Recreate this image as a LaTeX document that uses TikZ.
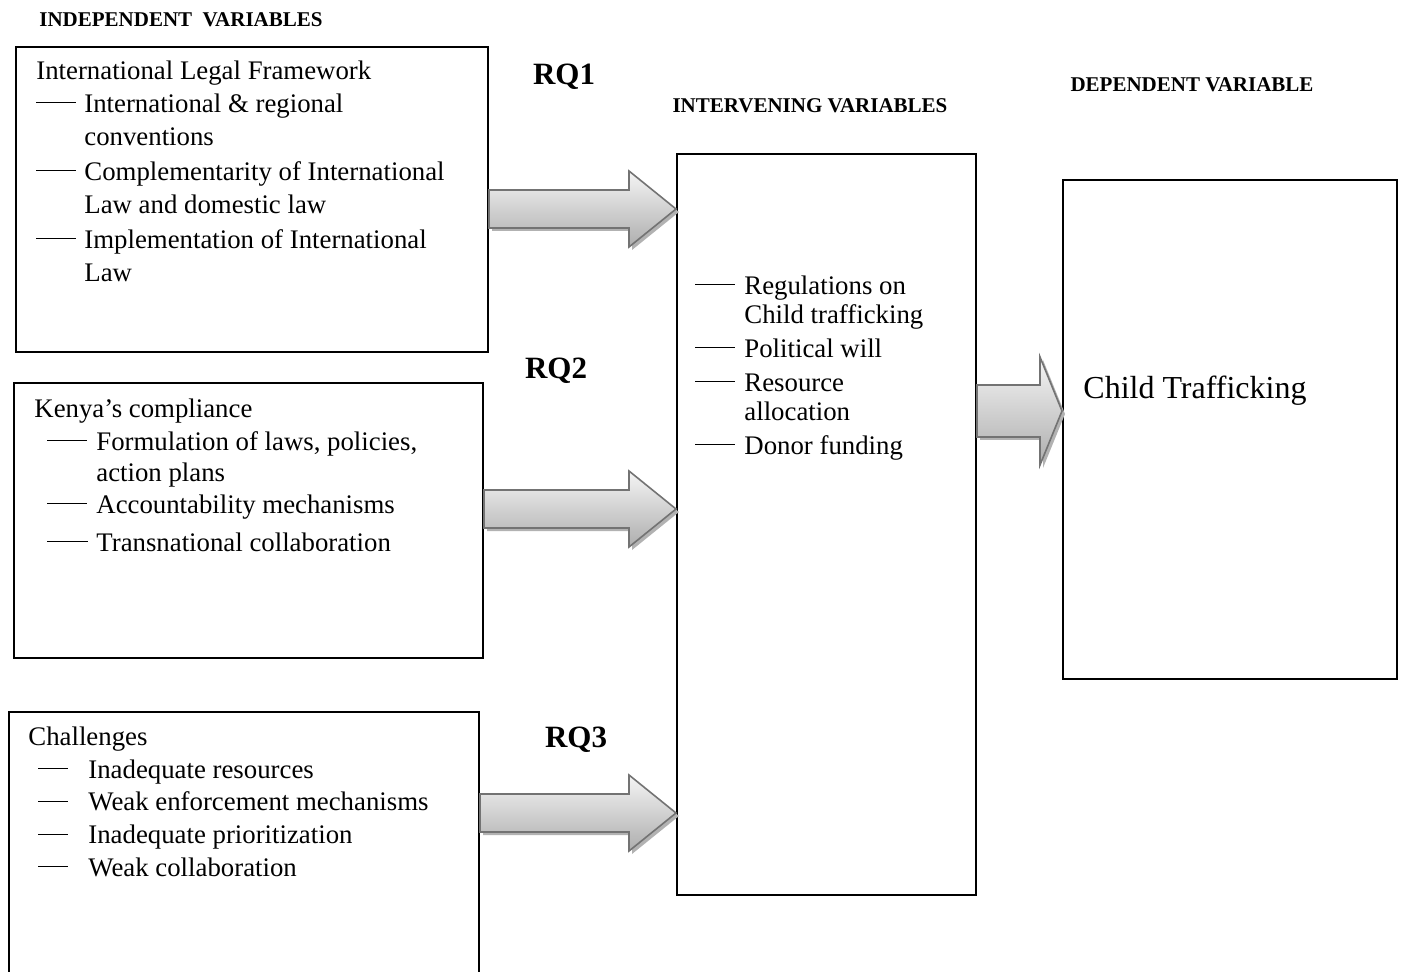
\documentclass[tikz,border=0pt]{standalone}
\usepackage{fontspec}
\setmainfont{Liberation Serif}
\usepackage{tikz}
\colorlet{arrowgray}{black!55}
\usetikzlibrary{calc,positioning}
\tikzstyle{varbox}=[draw,line width=1pt,rectangle,anchor=north west,inner sep=0pt]
\tikzstyle{boxtext}=[anchor=north west,inner sep=0pt]
\tikzstyle{heading}=[font=\fontsize{10.5}{12}\selectfont\bfseries,inner sep=0pt]
\tikzstyle{rq}=[font=\fontsize{15.5}{18}\selectfont\bfseries,inner sep=0pt]
\tikzstyle{fatarrow}=[draw=arrowgray,line width=0.8pt,top color=black!4,
  bottom color=black!32,preaction={fill=black!30,
  transform canvas={shift={(1.5pt,-1.5pt)}}}]
\newcommand{\itemdash}[1]{\rule[4.6pt]{#1}{0.5pt}}
% from, to, y, half shaft, half head, head length
\newcommand{\fatarrow}[6]{%
  \coordinate (fa) at (#1.east |- 0,#3);
  \coordinate (fb) at (#2.west |- 0,#3);
  \path[fatarrow] ($(fa)+(0,-#4)$) -- ($(fb)+(-#6,-#4)$) --
  ($(fb)+(-#6,-#5)$) -- (fb) -- ($(fb)+(-#6,#5)$) --
  ($(fb)+(-#6,#4)$) -- ($(fa)+(0,#4)$) -- cycle;}
\begin{document}
\begin{tikzpicture}[x=0.5pt, y=-0.5pt]
  \useasboundingbox (0,0) rectangle (1401,972);

  \node[heading] (indep) at (181,20) {INDEPENDENT\ \ VARIABLES};
  \node[heading] (interv) at (810,106) {INTERVENING VARIABLES};
  \node[heading] (dependent) at (1192,85) {DEPENDENT VARIABLE};

  \node[rq] (rqone) at (564,77) {RQ1};
  \node[rq] (rqtwo) at (556,371) {RQ2};
  \node[rq] (rqthree) at (576,740) {RQ3};

  \node[varbox, minimum width=236pt, minimum height=152.5pt] (legal) at (15,46) {};
  \node[varbox, minimum width=234.5pt, minimum height=137.5pt] (kenya) at (13,382) {};
  \node[varbox, minimum width=235pt, minimum height=132pt] (challenges) at (8,711) {};
  \node[varbox, minimum width=149.5pt, minimum height=370.5pt] (inter) at (676,153) {};
  \node[varbox, minimum width=167pt, minimum height=249.5pt] (dep) at (1062,179) {};

  \node[boxtext, font=\fontsize{13.4}{16.5}\selectfont] (legaltext) at (36,55.9) {%
    \begin{tabular}{@{}l@{\hspace{4pt}}l@{}}
      \multicolumn{2}{@{}l@{}}{International Legal Framework}\\
      \itemdash{20pt} & International \& regional\\
                      & conventions\\[1pt]
      \itemdash{20pt} & Complementarity of International\\
                      & Law and domestic law\\[1pt]
      \itemdash{20pt} & Implementation of International\\
                      & Law
    \end{tabular}};

  \node[boxtext, font=\fontsize{13.4}{16}\selectfont] (kenyatext) at (34,394.6) {%
    \begin{tabular}{@{\hspace{6.5pt}}l@{\hspace{4pt}}l@{}}
      \multicolumn{2}{@{}l@{}}{Kenya’s compliance}\\[0.5pt]
      \itemdash{20pt} & Formulation of laws, policies,\\[-0.5pt]
                      & action plans\\
      \itemdash{20pt} & Accountability mechanisms\\[3pt]
      \itemdash{20.5pt} & Transnational collaboration
    \end{tabular}};

  \node[boxtext, font=\fontsize{13.4}{16.4}\selectfont] (challtext) at (28,722) {%
    \begin{tabular}{@{\hspace{5pt}}l@{\hspace{10pt}}l@{}}
      \multicolumn{2}{@{}l@{}}{Challenges}\\
      \itemdash{15pt} & Inadequate resources\\
      \itemdash{15pt} & Weak enforcement mechanisms\\
      \itemdash{15pt} & Inadequate prioritization\\
      \itemdash{15pt} & Weak collaboration
    \end{tabular}};

  \node[boxtext, font=\fontsize{13.4}{14.5}\selectfont] (intertext) at (695,273.7) {%
    \begin{tabular}{@{}l@{\hspace{4.5pt}}l@{}}
      \itemdash{20pt} & Regulations on\\
                      & Child trafficking\\[2.5pt]
      \itemdash{20pt} & Political will\\[2.5pt]
      \itemdash{20pt} & Resource\\
                      & allocation\\[2.5pt]
      \itemdash{20pt} & Donor funding
    \end{tabular}};

  \node[anchor=west, inner sep=0pt, font=\fontsize{16}{19}\selectfont]
    (childtext) at (1083,391) {Child Trafficking};

  \fatarrow{legal}{inter}{209}{19}{38}{47}
  \fatarrow{kenya}{inter}{509}{19}{38}{47}
  \fatarrow{challenges}{inter}{813}{19}{38}{47}
  \fatarrow{inter}{dep}{411}{26}{54}{22}
\end{tikzpicture}
\end{document}
